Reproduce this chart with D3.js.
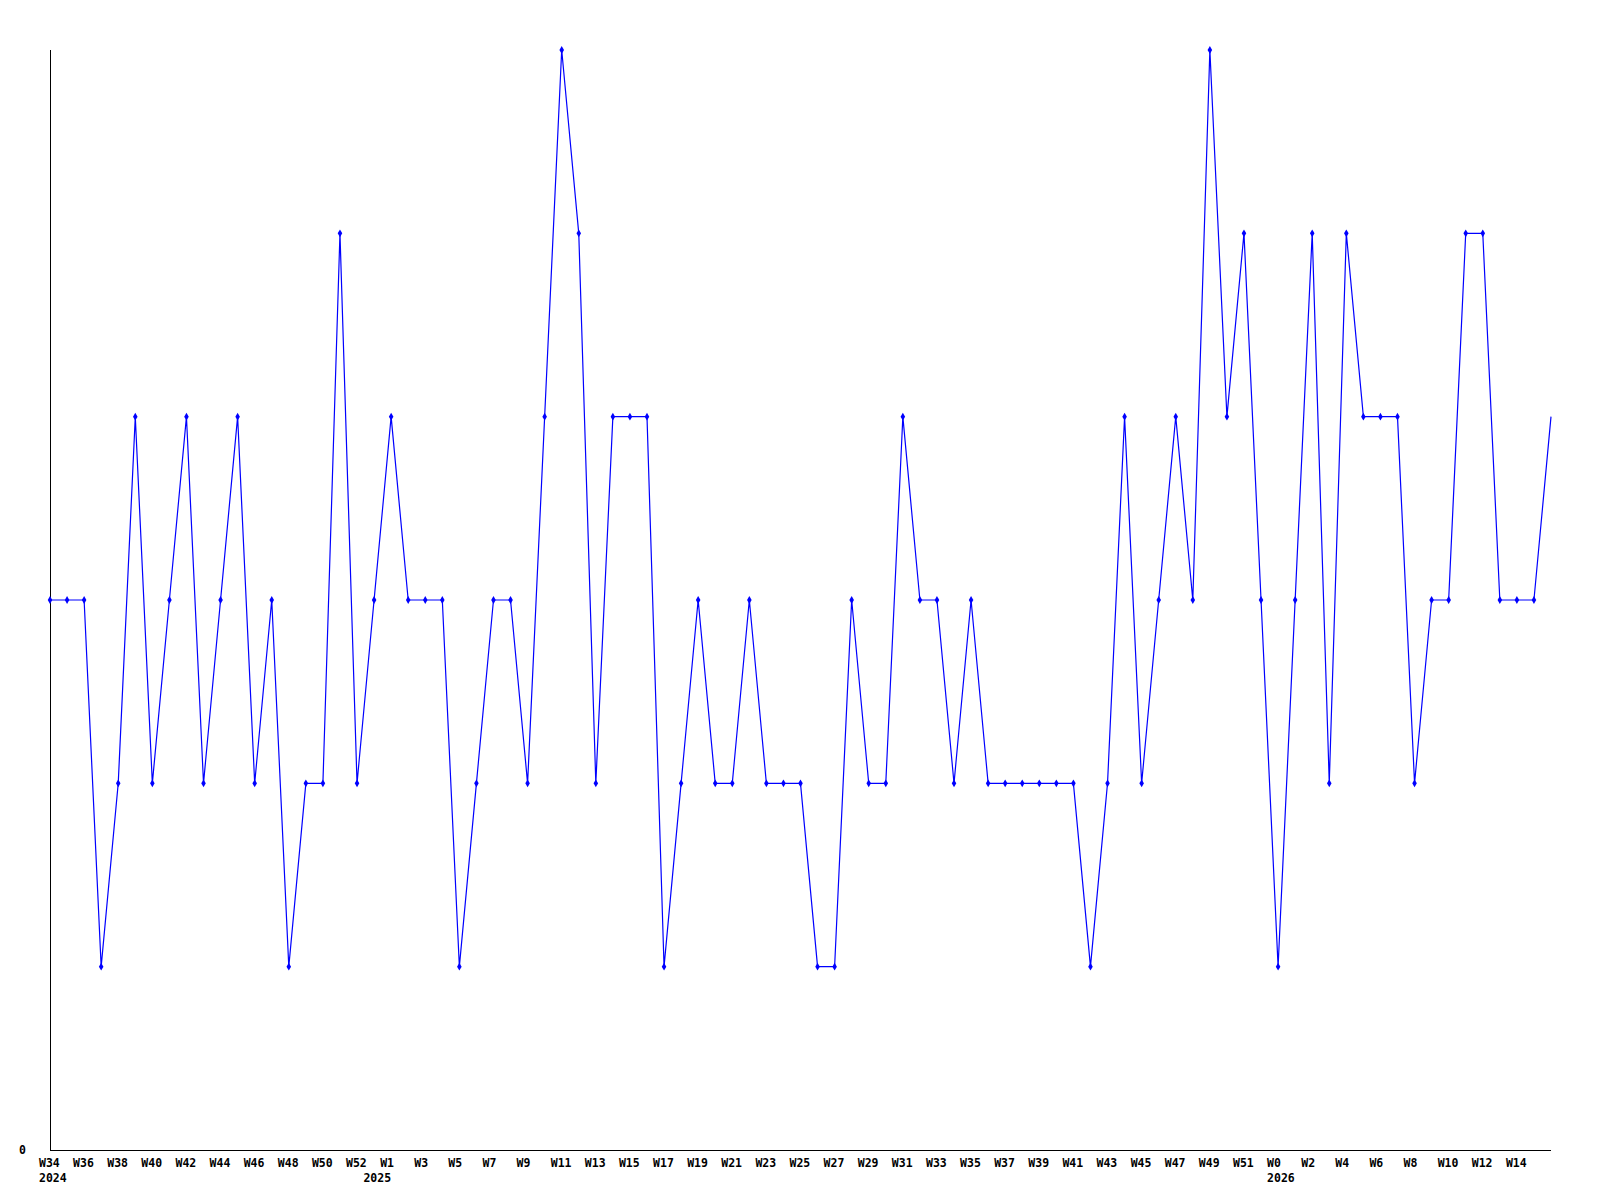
<html>
<meta charset="utf-8">
<head>
  <title>Weekly count</title>
  <script src="https://d3js.org/d3.v7.min.js"></script>
  <style>
    body { margin: 0; background: #fff; }
    text { font-family: "DejaVu Sans Mono", monospace; font-weight: bold; font-size: 11.5px; fill: #000; }
  </style>
</head>
<body>
<script>
// weeks, one per point (W0 = partial first week of a year)
const weeks = [
  "W34","W35","W36","W37","W38","W39","W40","W41","W42","W43","W44","W45","W46","W47","W48","W49","W50","W51","W52",
  "W0","W1","W2","W3","W4","W5","W6","W7","W8","W9","W10","W11","W12","W13","W14","W15","W16","W17","W18","W19","W20",
  "W21","W22","W23","W24","W25","W26","W27","W28","W29","W30","W31","W32","W33","W34","W35","W36","W37","W38","W39","W40",
  "W41","W42","W43","W44","W45","W46","W47","W48","W49","W50","W51","W52",
  "W0","W1","W2","W3","W4","W5","W6","W7","W8","W9","W10","W11","W12","W13","W14","W15","W16"
];
const values = [
  3,3,3,1,2,4,2,3,4,2,3,4,2,3,1,2,2,5,2,
  3,4,3,3,3,1,2,3,3,2,4,6,5,2,4,4,4,1,2,3,2,
  2,3,2,2,2,1,1,3,2,2,4,3,3,2,3,2,2,2,2,2,
  2,1,2,4,2,3,4,3,6,4,5,3,
  1,3,5,2,5,4,4,4,2,3,3,5,5,3,3,3,4
];
// indexes of the labelled weeks
const tickIndex = d3.range(0, 87, 2);
const yearLabels = [
  {year: "2024", index: 0},
  {year: "2025", index: 20},
  {year: "2026", index: 72}
];
const yTicks = [0];

const width = 1600, height = 1200;
const svg = d3.select('body').append('svg')
  .attr('width', width)
  .attr('height', height);

const x = d3.scaleLinear().domain([0, weeks.length - 1]).range([50, 1551]);
const y = d3.scaleLinear().domain([0, 6]).range([1150, 50]);

// axes
svg.append('line')
  .attr('x1', 50.5).attr('x2', 50.5)
  .attr('y1', y(6)).attr('y2', y(0))
  .attr('stroke', '#000');
svg.append('line')
  .attr('x1', 50).attr('x2', 1551)
  .attr('y1', y(0) + 0.5).attr('y2', y(0) + 0.5)
  .attr('stroke', '#000');

svg.selectAll('.ylab').data(yTicks)
  .enter().append('text')
  .attr('class', 'ylab')
  .attr('x', 26)
  .attr('y', d => y(d) + 4)
  .attr('text-anchor', 'end')
  .text(d => d);

svg.selectAll('.xlab').data(tickIndex)
  .enter().append('text')
  .attr('class', 'xlab')
  .attr('x', i => x(i) - 11)
  .attr('y', 1167)
  .text(i => weeks[i]);

svg.selectAll('.year').data(yearLabels)
  .enter().append('text')
  .attr('class', 'year')
  .attr('x', d => d.year === "2025" ? x(d.index) : x(d.index) - 11)
  .attr('text-anchor', d => d.year === "2025" ? 'end' : 'start')
  .attr('y', 1182)
  .text(d => d.year);

// series
const line = d3.line()
  .x((d, i) => x(i))
  .y(d => y(d));

svg.append('path')
  .datum(values)
  .attr('fill', 'none')
  .attr('stroke', '#0000ff')
  .attr('stroke-width', 1.2)
  .attr('d', line);

// markers on every point except the last (partial week)
svg.selectAll('.dot').data(values.slice(0, -1))
  .enter().append('path')
  .attr('class', 'dot')
  .attr('transform', (d, i) => `translate(${x(i)},${y(d)})`)
  .attr('d', d3.symbol().type(d3.symbolDiamond).size(18))
  .attr('fill', '#0000ff');
</script>
</body>
</html>
